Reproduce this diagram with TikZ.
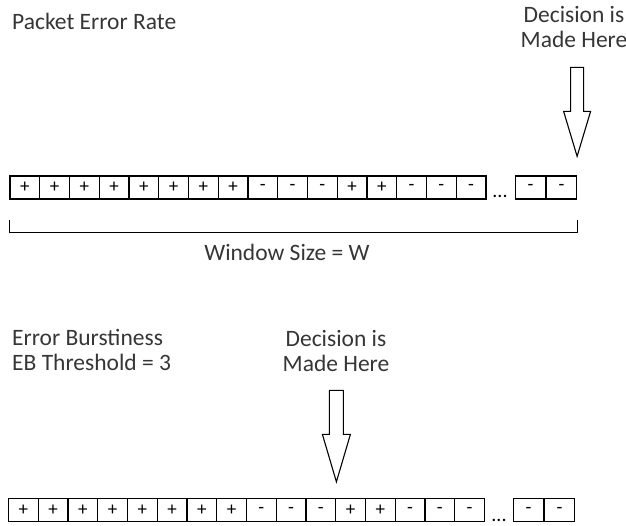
\documentclass[tikz,border=0pt]{standalone}
\usepackage{fontspec}
\setmainfont{Carlito}
\usetikzlibrary{calc,positioning}
\definecolor{txtgray}{HTML}{363636}
\tikzset{cell/.style={draw,line width=1.3pt,minimum width=29.75pt,minimum height=23pt,inner sep=0pt,font=\fontsize{19}{19}\selectfont},
	lbl/.style={text=txtgray,font=\fontsize{23.5}{25}\selectfont,inner sep=0pt},
	blockarrow/.style={draw,line width=1.1pt,fill=white}}

\begin{document}
\begin{tikzpicture}[x=1pt,y=1pt]
		\useasboundingbox (0,0) rectangle (626,525);
		% packet error rate
		\node[lbl,anchor=west] (per) at (12,504) {Packet Error Rate};
		\foreach \s [count=\i] in {+,+,+,+,+,+,+,+,-,-,-,+,+,-,-,-}
		\node[cell] (t\i) at ({10+(\i-0.5)*29.75},337.5) {\s};
		\node[cell,anchor=west] (t17) at (515,337.5) {-};
		\node[cell,right=0pt of t17] (t18) {-};
		\node[font=\fontsize{20}{20}\selectfont,anchor=base,inner sep=0pt] (tdots) at (500,327) {...};
		\draw[line width=1.2pt] ([yshift=-20pt]t1.south west) -- ++(0,-13) -| ([yshift=-20pt]t18.south east);
		\node[lbl] (ws) at (287,273) {Window Size = W};
		\node[lbl,align=center] (dtop) at (574,498) {Decision is\\Made Here};
		\coordinate (ttip) at ([yshift=19pt]t18.north east);
		\draw[blockarrow] (ttip) -- ++(-13.5,45) -- ++(7,0) -- ++(0,44) -- ++(13,0) -- ++(0,-44) -- ++(7,0) -- cycle;
		% error burstiness
		\node[lbl,align=left,anchor=west] (eb) at (12,175.5) {Error Burstiness\\EB Threshold = 3};
		\foreach \s [count=\i] in {+,+,+,+,+,+,+,+,-,-,-,+,+,-,-,-}
		\node[cell] (b\i) at ({8.5+(\i-0.5)*29.75},15) {\s};
		\node[cell,anchor=west] (b17) at (513,15) {-};
		\node[cell,right=0pt of b17] (b18) {-};
		\node[font=\fontsize{20}{20}\selectfont,anchor=base,inner sep=0pt] (bdots) at (499,4) {...};
		\node[lbl,align=center] (dbot) at (336,174) {Decision is\\Made Here};
		\coordinate (btip) at ([yshift=16pt]b11.north east);
		\draw[blockarrow] (btip) -- ++(-14,47.5) -- ++(7,0) -- ++(0,44) -- ++(14,0) -- ++(0,-44) -- ++(7,0) -- cycle;
\end{tikzpicture}
\end{document}
